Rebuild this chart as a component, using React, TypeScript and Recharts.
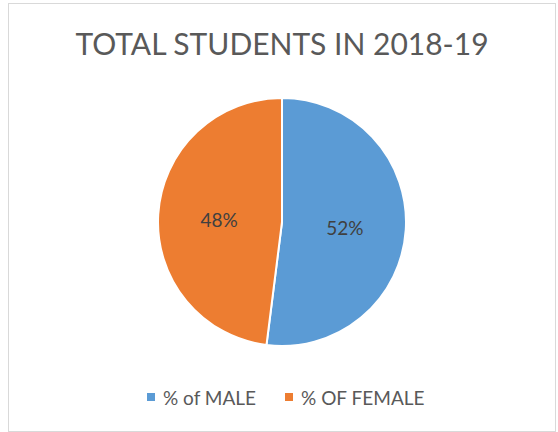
import React from 'react';
import { PieChart, Pie, Cell } from 'recharts';

const categories = ['% of MALE', '% OF FEMALE'];
const values = [52, 48];
const colors = ['#5B9BD5', '#ED7D31'];
const title = 'TOTAL STUDENTS IN 2018-19';

const data = categories.map((name, i) => ({ name, value: values[i] }));

const FONT = "Lato, 'Open Sans', sans-serif";
const RAD = Math.PI / 180;

const renderLabel = (props: any) => {
  const { cx, cy, midAngle, outerRadius, percent } = props;
  const r = outerRadius * 0.508;
  const x = cx + r * Math.cos(-midAngle * RAD);
  const y = cy + r * Math.sin(-midAngle * RAD) + 1.5;
  return (
    <text
      x={x}
      y={y}
      fill="#404040"
      textAnchor="middle"
      dominantBaseline="central"
      fontFamily={FONT}
      fontSize={19}
    >
      {`${Math.round(percent * 100)}%`}
    </text>
  );
};

export default function App() {
  return (
    <div style={{ position: 'absolute', left: 0, top: 0, width: 558, height: 432, background: '#fff', overflow: 'hidden' }}>
      <div
        style={{
          position: 'absolute',
          left: 8,
          top: 3,
          width: 546,
          height: 427,
          border: '1px solid #D9D9D9',
        }}
      />
      <div
        style={{
          position: 'absolute',
          left: 0,
          top: 25,
          width: 564,
          textAlign: 'center',
          fontFamily: FONT,
          fontSize: 30,
          color: '#595959',
          lineHeight: '36px',
          whiteSpace: 'nowrap',
        }}
      >
        {title}
      </div>
      <div style={{ position: 'absolute', left: 0, top: 0 }}>
        <PieChart width={558} height={432} margin={{ top: 0, right: 0, bottom: 0, left: 0 }}>
          <Pie
            data={data}
            dataKey="value"
            nameKey="name"
            cx={282}
            cy={222}
            outerRadius={124}
            startAngle={90}
            endAngle={-270}
            stroke="#ffffff"
            strokeWidth={2}
            label={renderLabel}
            labelLine={false}
            isAnimationActive={false}
          >
            {data.map((d, i) => (
              <Cell key={d.name} fill={colors[i]} />
            ))}
          </Pie>
        </PieChart>
      </div>
      <div
        style={{
          position: 'absolute',
          left: 147,
          top: 385.5,
          display: 'flex',
          alignItems: 'center',
          fontFamily: FONT,
          fontSize: 19,
          lineHeight: '23px',
          color: '#595959',
          whiteSpace: 'nowrap',
        }}
      >
        {categories.map((c, i) => (
          <div key={c} style={{ display: 'flex', alignItems: 'center', marginRight: i === 0 ? 29 : 0 }}>
            <span style={{ display: 'inline-block', width: 8, height: 8, background: colors[i], marginRight: 8 }} />
            <span>{c}</span>
          </div>
        ))}
      </div>
    </div>
  );
}
